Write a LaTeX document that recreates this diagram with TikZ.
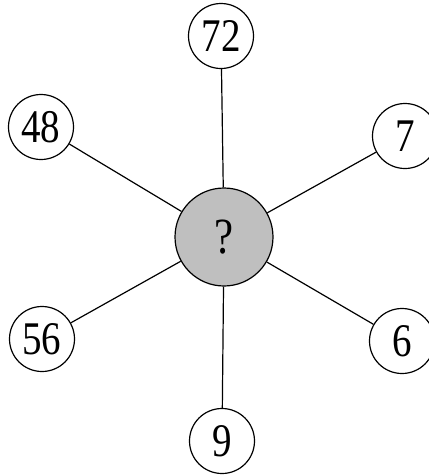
\documentclass[tikz,border=0pt]{standalone}
\usepackage{fontspec}
\setmainfont{Liberation Serif}

\begin{document}
\begin{tikzpicture}
[-,x=1pt,y=-1pt,line width=1.2pt,%
  every node/.style={shape=circle,draw,line width=1.2pt,inner sep=0pt,
    font=\fontsize{39}{39}\selectfont},%
  num/.style={minimum size=65pt,fill=white},%
  hub/.style={minimum size=98pt,fill=black!25}]
\useasboundingbox (0,0) rectangle (429,475);
\clip (0,0) rectangle (429,475);
\node[hub] (hub) at (224,237) {\scalebox{1.1}[1.3]{?}};
\node[num] (n72) at (221,36) {\scalebox{1}[1.2]{72}};
\node[num] (n48) at (41,127) {\scalebox{1}[1.2]{48}};
\node[num] (n7) at (405,136) {\scalebox{1}[1.2]{7}};
\node[num] (n56) at (42,339) {\scalebox{1}[1.2]{56}};
\node[num] (n6) at (402,341) {\scalebox{1}[1.2]{6}};
\node[num] (n9) at (222,441) {\scalebox{1}[1.2]{9}};
\foreach \leaf in {n72,n48,n7,n56,n6,n9}
  \draw (hub) -- (\leaf);
\end{tikzpicture}
\end{document}
